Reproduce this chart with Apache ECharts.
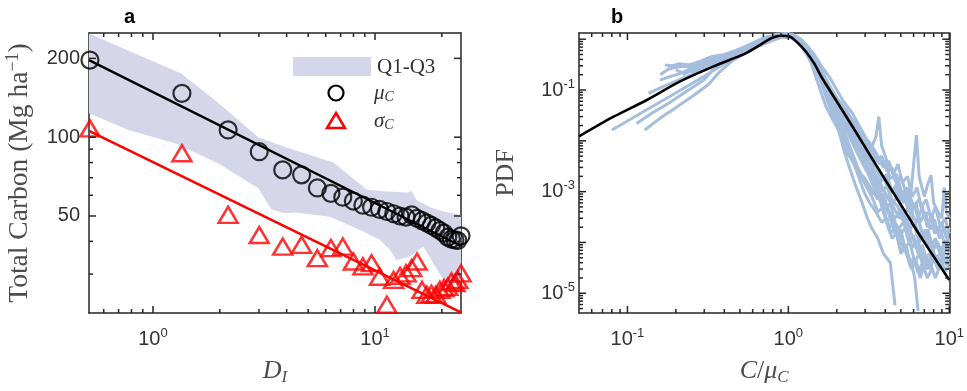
<!DOCTYPE html>
<html><head><meta charset="utf-8">
<script src="https://cdn.jsdelivr.net/npm/echarts@6/dist/echarts.min.js"></script>
<style>html,body{margin:0;padding:0;background:#fff}#c{width:967px;height:391px}</style>
</head><body><div id="c"></div>
<script>
// ---------- Panel a data ----------
const dI     = [0.52,1.35,2.18,3.01,3.84,4.67,5.5,6.33,7.16,7.99,8.82,9.65,10.48,11.31,12.14,12.97,13.8,14.63,15.46,16.29,17.12,17.95,18.78,19.61,20.44,21.27,22.1,22.93,23.6,24.4];
const muC    = [197,147,106.6,88,75,71.8,64,61,59,57,55,54,53,52,51,50,49.5,50.5,49,48,47,46,45,44,43,41.5,40.8,40.5,40.3,42];
const sigmaC = [108,86.8,50.5,42.3,38.2,38.8,34.5,37.7,38.2,33.5,32.1,33,29.3,22.9,28.5,29.5,30.2,31.6,33.5,26.1,25,25.2,25,26.1,26.5,26.8,28.1,27.7,28.5,30.2];
const muFitX  = [0.515,24.4];
const muFitY  = [197,38.4];
const sigFitX = [0.515,24.4];
const sigFitY = [105.6,21.4];
const bandUpperX = [0.515,1.34,1.97,2.98,3.9,4.6,6.5,9.2,11.3,13.9,14.6,15.4,17.7,20.4,24.4];
const bandUpperY = [249,175,135,100,92,88,80,63,62,61.5,62.3,57.6,54,52,50.4];
const bandLowerX = [0.515,0.774,1.256,1.97,2.98,3.42,3.93,4.36,6.27,8.86,10.55,11.7,12.5,14.3,16.5,18.3,20.4,21.8,24.4];
const bandLowerY = [123.4,106.6,94.8,79.4,63.8,52.9,51.2,51.5,49.7,43.6,40.5,37.1,33.9,35,38.2,33,28.5,27.7,28];
const aXRange = [0.515,24.4];
const aYRange = [21.3,250];
const aXMajor = [1,10];
const aXMinor = [0.6,0.7,0.8,0.9,2,3,4,5,6,7,8,9,20];
const aYMajor = [50,100,200];
const aYMinor = [30,40,60,70,80,90];

// ---------- Panel b data ----------
const fitC   = [0.05,0.082,0.132,0.211,0.34,0.431,0.546,0.691,0.80,0.9,1.01,1.12,1.28,1.45,1.62,2.06,2.61,3.30,4.18,5.31,6.73,10];
const fitPDF = [0.0122,0.0298,0.0636,0.146,0.288,0.39,0.533,0.83,1.08,1.17,1.14,0.9,0.578,0.33,0.172,0.0514,0.0154,0.00458,0.00137,4.09e-4,1.22e-4,1.82e-5];
const curve01 = [[0.08,0.0163],[0.1,0.0246],[0.13,0.040],[0.17,0.065],[0.22,0.105],[0.3,0.186],[0.4,0.33],[0.5,0.5],[0.63,0.75],[0.8,1.05],[0.95,1.2],[1.1,1.0],[1.3,0.6],[1.5,0.3],[1.7,0.15],[2.0,0.055],[2.4,0.022],[2.8,0.010],[3.2,0.0048],[3.6,0.0025],[4.0,0.0016],[4.4,0.0007],[4.8,0.0005],[5.2,0.00025],[5.7,0.00018],[6.2,0.00008],[6.8,0.00006],[7.4,0.000035],[8.0,0.00005],[8.7,0.000045],[9.4,0.00005],[10,0.00004]];
const curve02 = [[0.114,0.022],[0.14,0.034],[0.18,0.055],[0.24,0.1],[0.3,0.16],[0.34,0.25],[0.42,0.36],[0.52,0.5],[0.65,0.72],[0.8,0.95],[0.92,1.1],[1.05,1.05],[1.2,0.8],[1.4,0.45],[1.6,0.2],[1.8,0.09],[2.0,0.04],[2.3,0.016],[2.6,0.007],[2.9,0.0035],[3.2,0.002],[3.5,0.0013],[3.8,0.0006],[4.1,0.00045],[4.5,0.0002],[4.9,0.00015],[5.3,0.00008],[5.7,0.0001],[6.1,0.00004],[6.5,0.00006],[7.0,0.00003],[7.6,0.00004],[8.2,0.00002],[8.6,0.00003]];
const curve03 = [[0.128,0.0163],[0.16,0.028],[0.2,0.045],[0.26,0.08],[0.32,0.13],[0.373,0.226],[0.45,0.38],[0.55,0.55],[0.7,0.85],[0.85,1.1],[1.0,1.25],[1.15,0.95],[1.3,0.62],[1.5,0.28],[1.7,0.1],[1.9,0.045],[2.1,0.02],[2.4,0.006],[2.7,0.0025],[3.0,0.0015],[3.3,0.0009],[3.6,0.0011],[3.9,0.0005],[4.2,0.0004],[4.6,0.00015],[5.0,0.00018],[5.4,0.00006],[5.8,0.00004],[6.1,0.00002],[6.4,0.0000045]];
const curve04 = [[0.135,0.086],[0.16,0.11],[0.2,0.15],[0.25,0.2],[0.3,0.26],[0.38,0.34],[0.47,0.48],[0.6,0.7],[0.75,0.95],[0.9,1.15],[1.05,1.2],[1.2,0.9],[1.35,0.6],[1.55,0.3],[1.75,0.13],[2.0,0.06],[2.3,0.03],[2.6,0.018],[2.9,0.009],[3.2,0.006],[3.5,0.012],[3.65,0.03],[3.8,0.008],[4.1,0.004],[4.4,0.0025],[4.8,0.0012],[5.2,0.0006],[5.6,0.0009],[6.0,0.0003],[6.5,0.00025],[7.0,0.0001],[7.6,0.00012],[8.2,0.00005],[8.8,0.00006],[9.4,0.00004],[10,0.00005]];
const curve05 = [[0.159,0.157],[0.19,0.19],[0.23,0.23],[0.28,0.31],[0.35,0.38],[0.43,0.5],[0.53,0.62],[0.66,0.9],[0.8,1.15],[0.95,1.3],[1.1,1.15],[1.25,0.8],[1.4,0.5],[1.6,0.25],[1.8,0.12],[2.0,0.07],[2.3,0.04],[2.6,0.02],[2.9,0.011],[3.2,0.007],[3.5,0.004],[3.8,0.005],[4.1,0.0025],[4.4,0.003],[4.7,0.0015],[5.0,0.002],[5.4,0.0009],[5.8,0.0011],[6.25,0.013],[6.5,0.002],[7.0,0.0008],[7.4,0.0015],[7.7,0.0021],[8.0,0.0006],[8.5,0.0004],[9.0,0.0003],[9.3,0.0012],[9.6,0.0004],[10,0.0003]];
const curve06 = [[0.171,0.31],[0.19,0.30],[0.211,0.33],[0.24,0.31],[0.28,0.36],[0.33,0.45],[0.4,0.5],[0.5,0.62],[0.6,0.85],[0.72,1.1],[0.85,1.25],[1.0,1.3],[1.15,1.05],[1.3,0.75],[1.45,0.5],[1.6,0.3],[1.8,0.18],[2.0,0.1],[2.2,0.06],[2.5,0.035],[2.8,0.018],[3.1,0.01],[3.4,0.006],[3.7,0.0035],[4.0,0.004],[4.3,0.0018],[4.7,0.0022],[5.1,0.0009],[5.5,0.0012],[6.0,0.0005],[6.5,0.0007],[7.0,0.0003],[7.5,0.0004],[8.1,0.00015],[8.7,0.0002],[9.3,0.0001],[10,0.00012]];
const curve07 = [[0.189,0.28],[0.21,0.29],[0.243,0.29],[0.27,0.33],[0.32,0.38],[0.4,0.45],[0.5,0.58],[0.62,0.8],[0.75,1.0],[0.9,1.2],[1.05,1.15],[1.2,0.85],[1.35,0.55],[1.5,0.3],[1.65,0.15],[1.85,0.06],[2.1,0.025],[2.4,0.008],[2.7,0.003],[3.0,0.0014],[3.3,0.0008],[3.6,0.0004],[3.9,0.0005],[4.2,0.00018],[4.5,0.00025],[4.9,0.0001],[5.3,0.00008],[5.8,0.00004],[6.2,0.000045],[6.6,0.00002],[7.0,0.000035],[7.4,0.00003]];
const curve08 = [[0.2,0.25],[0.22,0.22],[0.25,0.27],[0.3,0.3],[0.36,0.38],[0.45,0.5],[0.55,0.65],[0.68,0.9],[0.82,1.1],[0.98,1.2],[1.12,1.05],[1.28,0.7],[1.45,0.4],[1.6,0.2],[1.75,0.1],[1.95,0.05],[2.2,0.025],[2.5,0.012],[2.8,0.006],[3.1,0.003],[3.4,0.0015],[3.7,0.0009],[4.0,0.0004],[4.3,0.0006],[4.6,0.00025],[5.0,0.00015],[5.4,0.0002],[5.9,0.00008],[6.4,0.00011],[6.9,0.00004],[7.5,0.00006],[8.1,0.00004],[8.6,0.00005],[9.2,0.00004],[10,0.00006]];
const curve09 = [[0.16,0.2],[0.18,0.26],[0.2,0.28],[0.23,0.3],[0.27,0.32],[0.33,0.4],[0.42,0.52],[0.52,0.68],[0.64,0.88],[0.78,1.08],[0.92,1.25],[1.06,1.25],[1.2,1.0],[1.35,0.65],[1.5,0.38],[1.65,0.2],[1.8,0.11],[2.0,0.065],[2.3,0.03],[2.6,0.015],[2.9,0.007],[3.2,0.0035],[3.5,0.0018],[3.8,0.001],[4.1,0.0013],[4.4,0.0006],[4.8,0.0008],[5.2,0.00035],[5.6,0.0005],[6.0,0.0002],[6.4,0.0003],[6.9,0.00012],[7.4,0.00018],[7.9,0.00007],[8.5,0.0001],[9.1,0.00005],[9.6,0.00008],[10,0.00006]];
const curve10 = [[0.3,0.28],[0.4,0.4],[0.5,0.55],[0.63,0.8],[0.78,1.0],[0.93,1.15],[1.08,1.1],[1.22,0.7],[1.38,0.35],[1.55,0.12],[1.7,0.05],[1.9,0.025],[2.06,0.016],[2.2,0.007],[2.37,0.0033],[2.6,0.0014],[2.85,0.00065],[3.1,0.0003],[3.3,0.00019],[3.6,0.00012],[3.9,0.00006],[4.3,0.00004],[4.6,0.0000058]];
const curve11 = [[0.25,0.22],[0.3,0.27],[0.38,0.36],[0.48,0.5],[0.6,0.72],[0.75,1.0],[0.9,1.2],[1.05,1.2],[1.2,0.9],[1.35,0.6],[1.5,0.35],[1.7,0.17],[1.9,0.09],[2.1,0.05],[2.4,0.03],[2.7,0.02],[3.0,0.012],[3.3,0.008],[3.6,0.005],[3.9,0.003],[4.2,0.004],[4.5,0.0022],[4.8,0.0035],[5.1,0.0015],[5.5,0.002],[5.9,0.0008],[6.3,0.0012],[6.7,0.0005],[7.2,0.0007],[7.7,0.0003],[8.2,0.0005],[8.8,0.0002],[9.4,0.0003],[10,0.00015]];
const curve12 = [[0.35,0.33],[0.45,0.45],[0.56,0.6],[0.7,0.85],[0.85,1.05],[1.0,1.2],[1.15,1.0],[1.3,0.7],[1.45,0.42],[1.6,0.22],[1.8,0.1],[2.0,0.045],[2.25,0.02],[2.5,0.01],[2.8,0.005],[3.1,0.0025],[3.4,0.0012],[3.7,0.0007],[4.0,0.0003],[4.3,0.00015],[4.6,0.0002],[5.0,0.00007],[5.4,0.00009],[5.8,0.00003],[6.2,0.00004],[6.6,0.000025],[7.1,0.00004],[7.6,0.00003],[8.0,0.00005],[8.5,0.00003],[9.0,0.00004],[9.5,0.000028],[10,0.000035]];
const curve13 = [[0.22,0.2],[0.28,0.28],[0.36,0.37],[0.46,0.5],[0.58,0.7],[0.72,0.95],[0.88,1.15],[1.02,1.2],[1.16,0.95],[1.3,0.6],[1.45,0.32],[1.6,0.14],[1.75,0.06],[1.9,0.03],[2.1,0.013],[2.3,0.006],[2.5,0.004],[2.75,0.0025],[3.0,0.0018],[3.3,0.0011],[3.6,0.0007],[3.9,0.0009],[4.2,0.0004],[4.6,0.0003],[5.0,0.00045],[5.5,0.0002],[6.0,0.00025],[6.5,0.0001],[7.0,0.00015],[7.6,0.00008],[8.2,0.0001],[8.8,0.00006],[9.4,0.00009],[10,0.00007]];
const curve14 = [[0.3,0.3],[0.4,0.42],[0.52,0.6],[0.66,0.85],[0.8,1.1],[0.96,1.25],[1.1,1.1],[1.25,0.75],[1.4,0.42],[1.55,0.2],[1.7,0.09],[1.85,0.045],[2.0,0.025],[2.2,0.012],[2.45,0.005],[2.7,0.0022],[2.95,0.001],[3.2,0.0006],[3.5,0.0004],[3.8,0.00025],[4.1,0.0003],[4.4,0.00012],[4.7,0.00015],[5.0,0.00006],[5.3,0.00008],[5.7,0.000035],[6.0,0.00005],[6.4,0.000025],[6.8,0.00004],[7.3,0.00002],[7.8,0.00003]];
const curve15 = [[0.4,0.4],[0.5,0.52],[0.63,0.75],[0.78,1.0],[0.94,1.2],[1.08,1.15],[1.22,0.85],[1.38,0.52],[1.55,0.28],[1.72,0.14],[1.9,0.075],[2.1,0.04],[2.35,0.02],[2.6,0.011],[2.85,0.006],[3.1,0.004],[3.4,0.0025],[3.7,0.0015],[4.0,0.002],[4.3,0.0009],[4.6,0.0012],[4.9,0.0006],[5.2,0.0009],[5.6,0.0004],[6.0,0.0006],[6.4,0.0003],[6.8,0.0005],[7.3,0.0002],[7.8,0.00035],[8.4,0.00015],[9.0,0.00025],[9.6,0.00012],[10,0.0002]];
const curve16 = [[0.45,0.45],[0.57,0.62],[0.72,0.9],[0.88,1.1],[1.02,1.15],[1.16,0.9],[1.32,0.55],[1.48,0.3],[1.65,0.15],[1.85,0.08],[2.05,0.045],[2.3,0.025],[2.55,0.014],[2.8,0.008],[3.05,0.005],[3.3,0.003],[3.6,0.0018],[3.9,0.0011],[4.2,0.0007],[4.5,0.0005],[4.9,0.0003],[5.3,0.0004],[5.7,0.00018],[6.1,0.00025],[6.6,0.00012],[7.1,0.00018],[7.6,0.00008],[8.2,0.00012],[8.8,0.00007],[9.4,0.0001],[10,0.00008]];
const curve17 = [[0.5,0.5],[0.65,0.75],[0.8,1.0],[0.97,1.2],[1.12,1.05],[1.27,0.7],[1.42,0.4],[1.58,0.2],[1.75,0.1],[1.95,0.05],[2.15,0.028],[2.4,0.015],[2.65,0.008],[2.9,0.0045],[3.2,0.0025],[3.5,0.0014],[3.8,0.0008],[4.1,0.0005],[4.4,0.0003],[4.8,0.00018],[5.2,0.00025],[5.6,0.0001],[6.0,0.00014],[6.4,0.00006],[6.8,0.00009],[7.3,0.00004],[7.9,0.00006],[8.5,0.00003],[9.1,0.00005],[9.7,0.000035],[10,0.00004]];
const curve18 = [[0.6,0.7],[0.75,0.95],[0.9,1.15],[1.05,1.2],[1.2,0.95],[1.35,0.62],[1.5,0.36],[1.68,0.18],[1.88,0.09],[2.1,0.045],[2.35,0.022],[2.6,0.012],[2.9,0.0065],[3.2,0.0035],[3.5,0.003],[3.8,0.0017],[4.1,0.0022],[4.4,0.001],[4.7,0.0014],[5.0,0.0007],[5.4,0.001],[5.8,0.0004],[6.2,0.0006],[6.6,0.00025],[7.1,0.0004],[7.6,0.00018],[8.1,0.00028],[8.7,0.00012],[9.3,0.0002],[10,0.0001]];
const pdfCurves = [curve01,curve02,curve03,curve04,curve05,curve06,curve07,curve08,curve09,curve10,curve11,curve12,curve13,curve14,curve15,curve16,curve17,curve18];
const bXRange = [0.05,10];
const bYRange = [4.09e-6,1.324];
const bXMajor = [0.1,1,10];
const bXMinor = [0.06,0.07,0.08,0.09,0.2,0.3,0.4,0.5,0.6,0.7,0.8,0.9,2,3,4,5,6,7,8,9];
const bYMajor = [1e-5,1e-4,1e-3,1e-2,1e-1,1];
const bYLabels = [1e-5,1e-3,1e-1];
const bYMinor = [5e-6,6e-6,7e-6,8e-6,9e-6,2e-5,3e-5,4e-5,5e-5,6e-5,7e-5,8e-5,9e-5,2e-4,3e-4,4e-4,5e-4,6e-4,7e-4,8e-4,9e-4,
                 2e-3,3e-3,4e-3,5e-3,6e-3,7e-3,8e-3,9e-3,0.02,0.03,0.04,0.05,0.06,0.07,0.08,0.09,0.2,0.3,0.4,0.5,0.6,0.7,0.8,0.9];

// ---------- styling ----------
const AX = '#262626';
const SANS = 'Liberation Sans';
const SERIF = 'Liberation Serif';
const GREY = '#4d4d4d';
const supRich = {
  b: {fontSize: 20, fontFamily: SANS, color: '#333'},
  s: {fontSize: 13, fontFamily: SANS, color: '#333', padding: [0, 0, 12, 0]}
};
function expLabel(v) {
  const e = Math.round(Math.log10(v));
  return '{b|10}{s|' + (e < 0 ? '-' + (-e) : e) + '}';
}
function axis(grid, pos, range, labels, fmt, margin, extra) {
  const a = {
    type: 'log', logBase: 10, gridIndex: grid, position: pos, min: range[0], max: range[1],
    axisLine: {show: true, onZero: false, lineStyle: {color: AX, width: 1.5}},
    axisTick: {show: false},
    axisLabel: labels ? {show: true, customValues: labels, formatter: fmt, margin: margin,
      fontSize: 20, fontFamily: SANS, color: '#333', rich: supRich} : {show: false},
    splitLine: {show: false}, minorTick: {show: false}, minorSplitLine: {show: false}
  };
  return Object.assign(a, extra || {});
}
const nameStyleBase = {fontFamily: SERIF, fontSize: 26, color: GREY};
const xAxes = [
  axis(0, 'bottom', aXRange, aXMajor, v => expLabel(v), 14, {
    name: '{i|D}{sub|I}', nameLocation: 'middle', nameGap: 44,
    nameTextStyle: Object.assign({}, nameStyleBase, {rich: {
      i: {fontFamily: SERIF, fontSize: 26, fontStyle: 'italic', color: GREY},
      sub: {fontFamily: SERIF, fontSize: 17, fontStyle: 'italic', color: GREY, padding: [12, 0, 0, 0]}}})
  }),
  axis(0, 'top', aXRange, null),
  axis(1, 'bottom', bXRange, bXMajor, v => expLabel(v), 14, {
    name: '{i|C}{n|/}{i|μ}{sub|C}', nameLocation: 'middle', nameGap: 44,
    nameTextStyle: Object.assign({}, nameStyleBase, {rich: {
      i: {fontFamily: SERIF, fontSize: 26, fontStyle: 'italic', color: GREY},
      n: {fontFamily: SERIF, fontSize: 26, color: GREY},
      sub: {fontFamily: SERIF, fontSize: 17, fontStyle: 'italic', color: GREY, padding: [12, 0, 0, 0]}}})
  }),
  axis(1, 'top', bXRange, null)
];
const yAxes = [
  axis(0, 'left', aYRange, aYMajor, v => '{b|' + v + '}', 9, {
    name: '{t|Total Carbon (Mg ha}{s|−1}{t|)}', nameLocation: 'middle', nameGap: 54, nameRotate: 90,
    nameTextStyle: Object.assign({}, nameStyleBase, {rich: {
      t: {fontFamily: SERIF, fontSize: 27.5, color: GREY},
      s: {fontFamily: SERIF, fontSize: 18, color: GREY, padding: [0, 0, 13, 0]}}})
  }),
  axis(0, 'right', aYRange, null),
  axis(1, 'left', bYRange, bYLabels, v => expLabel(v), 4, {
    name: 'PDF', nameLocation: 'middle', nameGap: 60, nameRotate: 90,
    nameTextStyle: nameStyleBase
  }),
  axis(1, 'right', bYRange, null)
];

// tick marks on all four sides: one custom item per panel, placed with api.coord (same route as the band)
function tickSeries(ai, xr, yr, xMajor, xMinor, yMajor, yMinor) {
  return {
    type: 'custom', xAxisIndex: ai, yAxisIndex: ai, silent: true, z: 10, clip: false,
    data: [[Math.sqrt(xr[0] * xr[1]), Math.sqrt(yr[0] * yr[1])]],
    renderItem: (params, api) => {
      const children = [];
      const add = (x, y, w, h) => children.push({type: 'rect', shape: {x: x, y: y, width: w, height: h}, style: {fill: AX}});
      const tx = (v, len) => {
        const b = api.coord([v, yr[0]]), t = api.coord([v, yr[1]]);
        add(b[0] - 0.75, b[1] - len, 1.5, len);
        add(t[0] - 0.75, t[1], 1.5, len);
      };
      const ty = (v, len) => {
        const l = api.coord([xr[0], v]), r = api.coord([xr[1], v]);
        add(l[0], l[1] - 0.75, len, 1.5);
        add(r[0] - len, r[1] - 0.75, len, 1.5);
      };
      xMajor.forEach(v => tx(v, 7));
      xMinor.forEach(v => tx(v, 4));
      yMajor.forEach(v => ty(v, 7));
      yMinor.forEach(v => ty(v, 4));
      return {type: 'group', children: children};
    }
  };
}

const BAND = '#d6d6eb';
const BLUE = 'rgb(166,190,221)';
const series = [];
series.push({
  type: 'custom', xAxisIndex: 0, yAxisIndex: 0, silent: true, z: 1, clip: false,
  data: [[bandUpperX[0], bandUpperY[0]]],
  renderItem: (params, api) => {
    const pts = [];
    for (let i = 0; i < bandUpperX.length; i++) pts.push(api.coord([bandUpperX[i], bandUpperY[i]]));
    for (let i = bandLowerX.length - 1; i >= 0; i--) pts.push(api.coord([bandLowerX[i], bandLowerY[i]]));
    return {type: 'polygon', shape: {points: pts}, style: {fill: BAND, stroke: 'none'}};
  }
});
series.push({type: 'line', xAxisIndex: 0, yAxisIndex: 0, symbol: 'none', z: 3,
  data: sigFitX.map((x, i) => [x, sigFitY[i]]), lineStyle: {color: '#ff0000', width: 2.5}});
series.push({type: 'line', xAxisIndex: 0, yAxisIndex: 0, symbol: 'none', z: 3,
  data: muFitX.map((x, i) => [x, muFitY[i]]), lineStyle: {color: '#000', width: 2.5}});
series.push({type: 'scatter', xAxisIndex: 0, yAxisIndex: 0, symbol: 'circle', symbolSize: 17, z: 4, clip: false,
  data: dI.map((x, i) => [x, muC[i]]),
  itemStyle: {color: 'rgba(0,0,0,0)', borderColor: '#000', borderWidth: 2.2}});
series.push({type: 'scatter', xAxisIndex: 0, yAxisIndex: 0, symbol: 'triangle', symbolSize: [19, 16], z: 4, clip: false,
  data: dI.map((x, i) => [x, sigmaC[i]]),
  itemStyle: {color: 'rgba(0,0,0,0)', borderColor: '#ff0000', borderWidth: 2.5}});
pdfCurves.forEach(c => series.push({type: 'line', xAxisIndex: 2, yAxisIndex: 2, symbol: 'none', z: 2,
  data: c, lineStyle: {color: BLUE, width: 3}}));
series.push({type: 'line', xAxisIndex: 2, yAxisIndex: 2, symbol: 'none', z: 3, smooth: 0.3,
  data: fitC.map((x, i) => [x, fitPDF[i]]), lineStyle: {color: '#000', width: 2.6}});
series.push(tickSeries(0, aXRange, aYRange, aXMajor, aXMinor, aYMajor, aYMinor));
series.push(tickSeries(2, bXRange, bYRange, bXMajor, bXMinor, bYMajor, bYMinor));

const legendGraphics = [
  {type: 'rect', shape: {x: 293, y: 57, width: 78, height: 19}, style: {fill: BAND}, z: 10},
  {type: 'text', x: 377, y: 67, style: {text: 'Q1-Q3', verticalAlign: 'middle', fontFamily: SERIF, fontSize: 21, fill: '#333'}, z: 10},
  {type: 'circle', shape: {cx: 336, cy: 93, r: 7.5}, style: {fill: 'none', stroke: '#000', lineWidth: 2.2}, z: 10},
  {type: 'text', x: 374, y: 93, style: {text: '{i|μ}{s|C}', verticalAlign: 'middle', rich: {
    i: {fontFamily: SERIF, fontSize: 21, fontStyle: 'italic', fill: '#333'},
    s: {fontFamily: SERIF, fontSize: 14, fontStyle: 'italic', fill: '#333', padding: [9, 0, 0, 0]}}}, z: 10},
  {type: 'polygon', shape: {points: [[327, 128], [345, 128], [336, 113]]}, style: {fill: 'none', stroke: '#ff0000', lineWidth: 2.5}, z: 10},
  {type: 'text', x: 374, y: 121, style: {text: '{i|σ}{s|C}', verticalAlign: 'middle', rich: {
    i: {fontFamily: SERIF, fontSize: 21, fontStyle: 'italic', fill: '#333'},
    s: {fontFamily: SERIF, fontSize: 14, fontStyle: 'italic', fill: '#333', padding: [9, 0, 0, 0]}}}, z: 10}
];

const option = {
  animation: false,
  backgroundColor: '#fff',
  title: [
    {text: 'a', left: 119, top: 2, textStyle: {fontFamily: SANS, fontSize: 20, fontWeight: 'bold', color: '#000'}},
    {text: 'b', left: 606, top: 2, textStyle: {fontFamily: SANS, fontSize: 20, fontWeight: 'bold', color: '#000'}}
  ],
  grid: [
    {left: 89, right: 506, top: 33, bottom: 78},
    {left: 579, right: 17, top: 33, bottom: 78}
  ],
  xAxis: xAxes,
  yAxis: yAxes,
  series: series,
  graphic: legendGraphics
};
const chart = echarts.init(document.getElementById('c'));
chart.setOption(option);
</script></body></html>
